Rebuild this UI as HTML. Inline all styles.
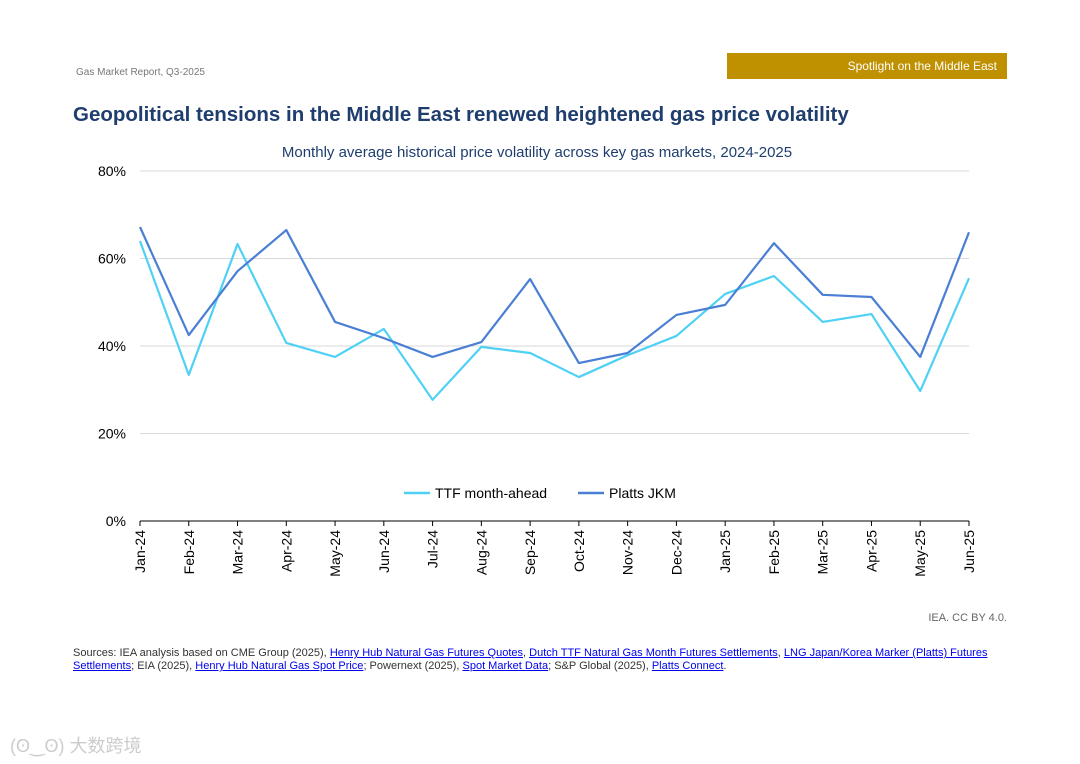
<!DOCTYPE html>
<html><head><meta charset="utf-8"><style>
body{margin:0;width:1080px;height:764px;background:#fff;font-family:"Liberation Sans",sans-serif;position:relative;overflow:hidden}
.a{position:absolute;white-space:nowrap}
a{color:#0000ee;text-decoration:underline}
</style></head><body>
<div class="a" style="left:76px;top:67px;font-size:10px;color:#777">Gas Market Report, Q3-2025</div>
<div class="a" style="left:727px;top:53px;width:280px;height:26px;background:#bf9000;color:#fff;font-size:12px;line-height:26px;text-align:right;box-sizing:border-box;padding-right:10px">Spotlight on the Middle East</div>
<div class="a" style="left:73px;top:103px;font-size:20.5px;font-weight:bold;color:#1f3e6e">Geopolitical tensions in the Middle East renewed heightened gas price volatility</div>
<div class="a" style="left:0;width:1080px;text-align:center;top:144px;font-size:15px;color:#1f3e6e"><span style="position:relative;left:-3px">Monthly average historical price volatility across key gas markets, 2024-2025</span></div>
<svg id="c" class="a" style="left:0;top:0" width="1080" height="764"></svg>
<div class="a" style="right:73px;top:612px;font-size:11px;color:#666">IEA. CC BY 4.0.</div>
<div class="a" style="left:73px;top:647px;width:930px;white-space:normal;font-size:11px;line-height:13px;color:#333">Sources: IEA analysis based on CME Group (2025), <a>Henry Hub Natural Gas Futures Quotes</a>, <a>Dutch TTF Natural Gas Month Futures Settlements</a>, <a>LNG Japan/Korea Marker (Platts) Futures Settlements</a>; EIA (2025), <a>Henry Hub Natural Gas Spot Price</a>; Powernext (2025), <a>Spot Market Data</a>; S&amp;P Global (2025), <a>Platts Connect</a>.</div>
<div class="a" style="left:10px;top:732px;font-size:18px;color:#ccc;font-family:'Liberation Sans','Noto Sans CJK SC',sans-serif">(ʘ‿ʘ) 大数跨境</div>
<script>
const months=["Jan-24","Feb-24","Mar-24","Apr-24","May-24","Jun-24","Jul-24","Aug-24","Sep-24","Oct-24","Nov-24","Dec-24","Jan-25","Feb-25","Mar-25","Apr-25","May-25","Jun-25"];
const ttf=[64,33.4,63.3,40.7,37.5,43.9,27.7,39.8,38.4,32.9,37.9,42.3,51.9,56,45.5,47.3,29.7,55.5];
const jkm=[67.2,42.5,57.1,66.5,45.5,41.8,37.5,40.9,55.3,36.1,38.4,47.1,49.4,63.5,51.7,51.2,37.5,66];
const yTicks=[0,20,40,60,80];
const NS="http://www.w3.org/2000/svg",svg=document.getElementById('c');
const x0=140,x1=969,yb=521,yt=171;
const X=i=>x0+i*(x1-x0)/(months.length-1);
const Y=v=>yb-(v/80)*(yb-yt);
function mk(t,a){const e=document.createElementNS(NS,t);for(const k in a)e.setAttribute(k,a[k]);svg.appendChild(e);return e;}
yTicks.forEach(v=>{
 if(v>0){const g=mk('line',{x1:x0,x2:x1,y1:Y(v),y2:Y(v),stroke:'#d9d9d9'});
 
 }
 const t=mk('text',{x:126,y:Y(v)+5,'text-anchor':'end','font-size':14,fill:'#000'});t.textContent=v+'%';
 
 
});
const ax=mk('line',{x1:x0,x2:x1,y1:yb,y2:yb,stroke:'#000'});


months.forEach((m,i)=>{
 const tk=mk('line',{x1:X(i),x2:X(i),y1:yb,y2:yb+5,stroke:'#000'});
 
 
 const t=mk('text',{x:0,y:0,'font-size':14,'text-anchor':'end',transform:`translate(${X(i)+5},${yb+9}) rotate(-90)`});t.textContent=m;
 
 
});
function line(d,c,n){const p=mk('polyline',{points:d.map((v,i)=>X(i)+','+Y(v)).join(' '),fill:'none',stroke:c,'stroke-width':2.2,'stroke-linejoin':'round'});
 
 }
line(ttf,'#4fd1f5','ttf-line');
line(jkm,'#4a7fd4','jkm-line');
[[404,'#4fd1f5','TTF month-ahead','legend-ttf'],[578,'#4a7fd4','Platts JKM','legend-jkm']].forEach(([lx,c,l,n])=>{
 const s=mk('line',{x1:lx,x2:lx+26,y1:493,y2:493,stroke:c,'stroke-width':2.5});
 
 
 const t=mk('text',{x:lx+31,y:498,'font-size':14});t.textContent=l;
 
 
});
</script>
</body></html>
